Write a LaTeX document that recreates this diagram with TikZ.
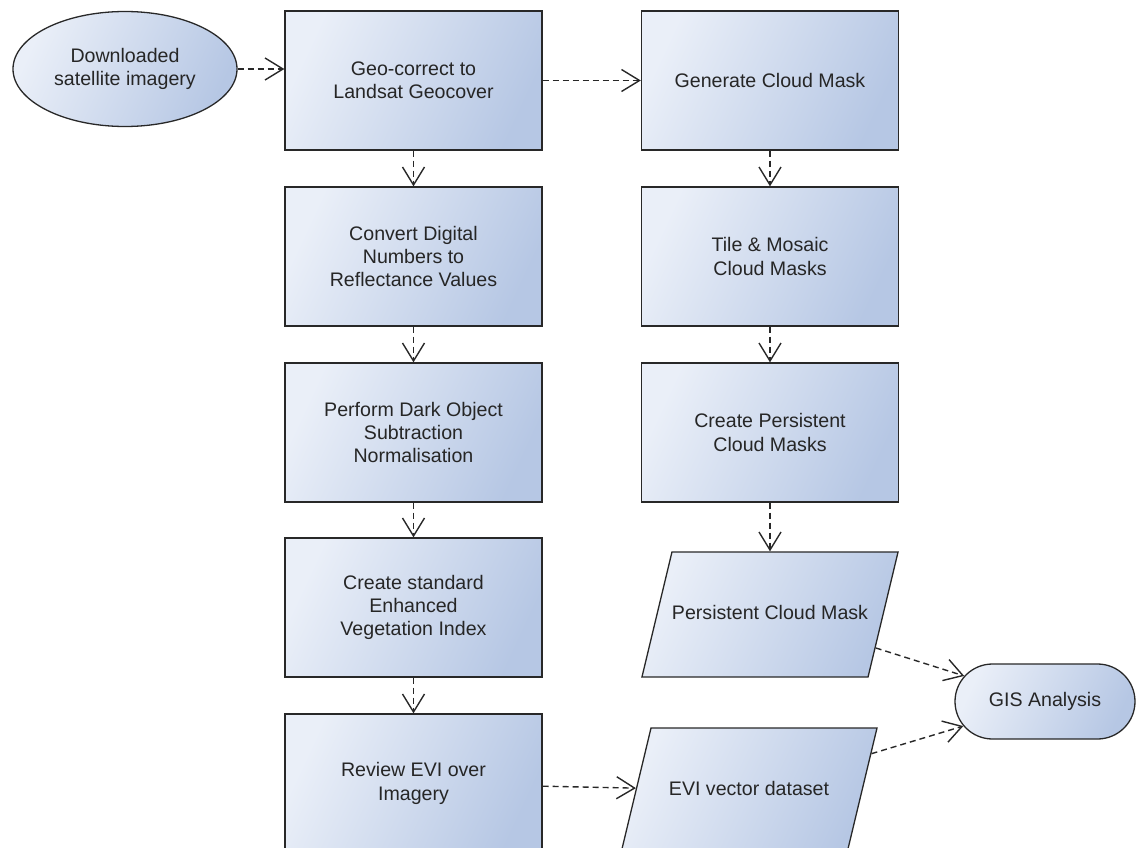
\documentclass[tikz,border=0pt]{standalone}
\usepackage{fontspec}
\setmainfont{Liberation Sans}
\usetikzlibrary{shapes.geometric,shapes.misc,arrows.meta}
\definecolor{boxlight}{RGB}{234,239,248}
\definecolor{boxdark}{RGB}{182,199,228}
\definecolor{edgegray}{RGB}{40,40,40}

\begin{document}
\begin{tikzpicture}[x=1pt,y=-1pt,
    every node/.style={font=\fontsize{19.6}{23.2}\selectfont, text=black!85, align=center, inner sep=0pt},
    shaded/.style={draw=edgegray, line width=1.3pt, left color=boxlight, right color=boxdark, shading angle=65},
    stepbox/.style={shaded, rectangle, minimum width=257pt, minimum height=139pt},
    databox/.style={shaded, trapezium, trapezium left angle=76.5, trapezium right angle=103.5,
        trapezium stretches body, text height=14pt, text depth=4pt, inner ysep=53.5pt,
        minimum width=256pt},
    startnode/.style={shaded, ellipse, minimum width=224pt, minimum height=115pt},
    endnode/.style={shaded, rounded rectangle, minimum width=180pt, minimum height=75pt},
    flow/.style={draw=edgegray, line width=1.4pt, dash pattern=on 6pt off 4pt,
        -{Straight Barb[length=18pt,width=22pt]}}]
                    \useasboundingbox (0,0) rectangle (1136,848);
                    \clip (0,0) rectangle (1136,848);

                    \node[startnode] (dl) at (125,69) {Downloaded\\satellite imagery};
                    \node[stepbox] (geo) at (413.5,80.5) {Geo-correct to\\Landsat Geocover};
                    \node[stepbox] (conv) at (413.5,256.5) {Convert Digital\\Numbers to\\Reflectance Values};
                    \node[stepbox] (dos) at (413.5,432.5) {Perform Dark Object\\Subtraction\\Normalisation};
                    \node[stepbox] (index) at (413.5,607.5) {Create standard\\Enhanced\\Vegetation Index};
                    \node[stepbox] (review) at (413.5,783.5) {Review EVI over\\Imagery};

                    \node[stepbox] (cloud) at (770,80.5) {Generate Cloud Mask};
                    \node[stepbox] (tile) at (770,256.5) {Tile \& Mosaic\\Cloud Masks};
                    \node[stepbox] (persist) at (770,432.5) {Create Persistent\\Cloud Masks};
                    \node[databox] (pmask) at (770,614.5) {Persistent Cloud Mask};
                    \node[databox] (evi) at (749,790.5) {EVI vector dataset};
                    \node[endnode] (gis) at (1045,701.5) {GIS Analysis};

                    \draw[flow] (dl.east) -- (dl.east -| geo.west);
                    \draw[flow] (geo) -- (cloud);
                    \draw[flow] (geo) -- (conv);
                    \draw[flow] (conv) -- (dos);
                    \draw[flow] (dos) -- (index);
                    \draw[flow] (index) -- (review);
                    \draw[flow] (cloud) -- (tile);
                    \draw[flow] (tile) -- (persist);
                    \draw[flow] (persist) -- (pmask);
                    \draw[flow] (review) -- (evi);
                    \draw[flow] (pmask) -- (gis);
                    \draw[flow] (evi) -- (gis);
                \end{tikzpicture}
\end{document}
